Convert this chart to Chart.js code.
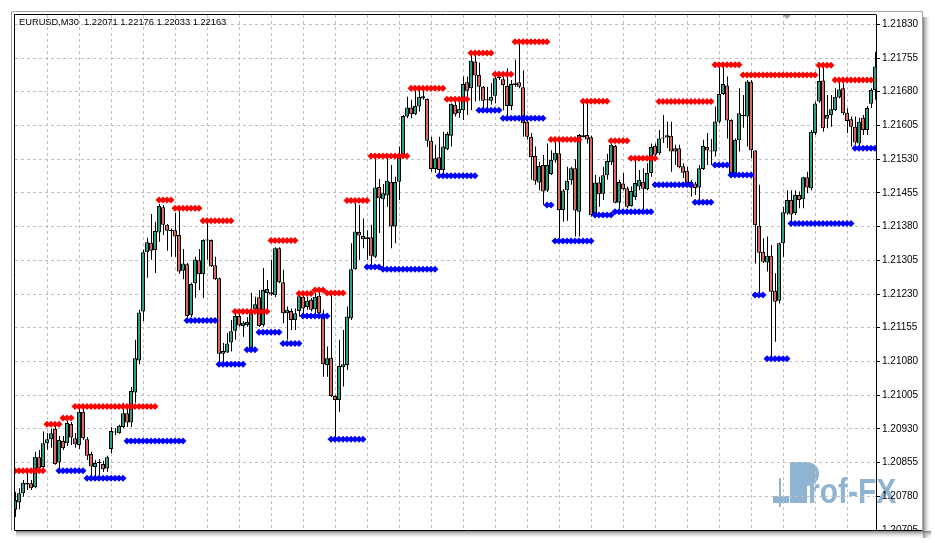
<!DOCTYPE html>
<html>
<head>
<meta charset="utf-8">
<title>EURUSD,M30</title>
<script src="https://cdn.jsdelivr.net/npm/chart.js@4.4.1/dist/chart.umd.min.js"></script>
<style>
  html, body { margin: 0; padding: 0; background: #fff; }
  canvas { display: block; }
</style>
</head>
<body>
<canvas id="chart" width="935" height="543"></canvas>
<script>
// EURUSD M30 candles with support / resistance dots (MT4 style)
var symbolTitle = 'EURUSD,M30  1.22071 1.22176 1.22033 1.22163';

// price ticks of the right axis
var tickLabels = [1.20705, 1.20780, 1.20855, 1.20930, 1.21005, 1.21080, 1.21155, 1.21230,
  1.21305, 1.21380, 1.21455, 1.21530, 1.21605, 1.21680, 1.21755, 1.21830];

// vertical grid every 8 bars (4 hours)
var gridBars = [8, 16, 24, 32, 40, 48, 56, 64, 72, 80, 88, 96, 104, 112, 120, 128,
  136, 144, 152, 160, 168, 176, 184, 192, 200, 208];

var opens = [
  1.20750,1.20766,1.20787,1.20810,1.20809,1.20800,1.20867,1.20845,1.20898,1.20907,
  1.20930,1.20855,1.20903,1.20898,1.20941,1.20909,1.20894,1.20968,1.20907,1.20874,
  1.20845,1.20855,1.20852,1.20842,1.20885,1.20923,1.20920,1.20934,1.20965,1.20944,
  1.21011,1.21082,1.21191,1.21323,1.21344,1.21328,1.21367,1.21423,1.21384,1.21372,
  1.21372,1.21361,1.21282,1.21296,1.21183,1.21254,1.21305,1.21274,1.21351,1.21350,
  1.21294,1.21265,1.21097,1.21100,1.21122,1.21148,1.21181,1.21159,1.21161,1.21102,
  1.21196,1.21223,1.21161,1.21232,1.21234,1.21227,1.21332,1.21256,1.21187,1.21192,
  1.21172,1.21192,1.21224,1.21201,1.21217,1.21196,1.21226,1.21183,1.21072,1.21088,
  1.21003,1.20994,1.21067,1.21072,1.21176,1.21285,1.21368,1.21359,1.21352,1.21356,
  1.21313,1.21468,1.21441,1.21449,1.21480,1.21380,1.21480,1.21539,1.21625,1.21645,
  1.21630,1.21647,1.21665,1.21664,1.21571,1.21508,1.21534,1.21506,1.21552,1.21582,
  1.21651,1.21632,1.21639,1.21701,1.21688,1.21747,1.21717,1.21691,1.21662,1.21660,
  1.21671,1.21710,1.21708,1.21693,1.21648,1.21695,1.21701,1.21690,1.21613,1.21580,
  1.21537,1.21478,1.21517,1.21460,1.21497,1.21527,1.21543,1.21417,1.21461,1.21483,
  1.21510,1.21413,1.21579,1.21584,1.21579,1.21408,1.21478,1.21453,1.21494,1.21523,
  1.21559,1.21433,1.21476,1.21465,1.21426,1.21446,1.21469,1.21480,1.21463,1.21499,
  1.21559,1.21543,1.21576,1.21578,1.21582,1.21547,1.21554,1.21514,1.21504,1.21467,
  1.21476,1.21467,1.21508,1.21557,1.21549,1.21547,1.21613,1.21675,1.21694,1.21617,
  1.21497,1.21572,1.21626,1.21625,1.21702,1.21549,1.21382,1.21324,1.21300,1.21315,
  1.21237,1.21215,1.21343,1.21409,1.21439,1.21410,1.21450,1.21441,1.21490,1.21465,
  1.21588,1.21658,1.21705,1.21620,1.21628,1.21639,1.21667,1.21688,1.21633,1.21619,
  1.21602,1.21565,1.21622,1.21595,1.21653,1.21684
];
var highs = [
  1.20790,1.20798,1.20816,1.20835,1.20816,1.20879,1.20883,1.20924,1.20921,1.20930,
  1.20943,1.20914,1.20914,1.20950,1.20945,1.20921,1.20977,1.20977,1.20912,1.20879,
  1.20861,1.20863,1.20859,1.20870,1.20934,1.20932,1.20939,1.20988,1.20983,1.21023,
  1.21128,1.21195,1.21328,1.21355,1.21408,1.21391,1.21430,1.21428,1.21386,1.21376,
  1.21411,1.21421,1.21330,1.21299,1.21255,1.21313,1.21330,1.21352,1.21395,1.21351,
  1.21313,1.21267,1.21121,1.21143,1.21172,1.21195,1.21188,1.21170,1.21179,1.21233,
  1.21224,1.21239,1.21288,1.21261,1.21306,1.21334,1.21334,1.21284,1.21202,1.21198,
  1.21198,1.21232,1.21228,1.21224,1.21221,1.21232,1.21239,1.21195,1.21113,1.21230,
  1.21005,1.21128,1.21150,1.21202,1.21343,1.21435,1.21428,1.21398,1.21372,1.21384,
  1.21536,1.21486,1.21475,1.21533,1.21517,1.21491,1.21558,1.21628,1.21669,1.21662,
  1.21688,1.21684,1.21688,1.21665,1.21580,1.21562,1.21580,1.21591,1.21591,1.21654,
  1.21669,1.21669,1.21714,1.21714,1.21769,1.21769,1.21745,1.21693,1.21691,1.21699,
  1.21714,1.21725,1.21714,1.21732,1.21706,1.21751,1.21789,1.21728,1.21621,1.21588,
  1.21558,1.21524,1.21539,1.21565,1.21550,1.21573,1.21573,1.21463,1.21513,1.21513,
  1.21530,1.21586,1.21656,1.21655,1.21582,1.21495,1.21491,1.21513,1.21542,1.21565,
  1.21562,1.21484,1.21499,1.21469,1.21469,1.21532,1.21506,1.21510,1.21521,1.21565,
  1.21565,1.21595,1.21628,1.21613,1.21613,1.21562,1.21562,1.21521,1.21513,1.21484,
  1.21480,1.21517,1.21573,1.21588,1.21575,1.21647,1.21736,1.21736,1.21714,1.21619,
  1.21576,1.21688,1.21673,1.21706,1.21706,1.21550,1.21473,1.21354,1.21358,1.21339,
  1.21276,1.21344,1.21424,1.21461,1.21461,1.21461,1.21458,1.21491,1.21502,1.21595,
  1.21658,1.21732,1.21736,1.21673,1.21673,1.21688,1.21702,1.21699,1.21643,1.21625,
  1.21625,1.21622,1.21628,1.21648,1.21688,1.21769
];
var lows = [
  1.20734,1.20751,1.20779,1.20794,1.20794,1.20798,1.20839,1.20843,1.20883,1.20888,
  1.20850,1.20839,1.20883,1.20892,1.20894,1.20888,1.20885,1.20905,1.20861,1.20825,
  1.20821,1.20827,1.20834,1.20834,1.20876,1.20916,1.20919,1.20932,1.20934,1.20934,
  1.20988,1.21074,1.21170,1.21266,1.21306,1.21277,1.21346,1.21361,1.21326,1.21313,
  1.21313,1.21275,1.21263,1.21178,1.21179,1.21221,1.21239,1.21221,1.21306,1.21290,
  1.21261,1.21077,1.21077,1.21099,1.21102,1.21128,1.21157,1.21135,1.21157,1.21101,
  1.21187,1.21157,1.21157,1.21195,1.21226,1.21223,1.21254,1.21165,1.21128,1.21150,
  1.21150,1.21180,1.21183,1.21195,1.21191,1.21183,1.21181,1.21046,1.21046,1.21001,
  1.20909,1.20968,1.21024,1.21061,1.21172,1.21284,1.21306,1.21332,1.21306,1.21295,
  1.21310,1.21366,1.21284,1.21424,1.21332,1.21343,1.21439,1.21536,1.21621,1.21621,
  1.21628,1.21636,1.21662,1.21557,1.21502,1.21499,1.21495,1.21495,1.21550,1.21558,
  1.21625,1.21622,1.21617,1.21628,1.21639,1.21658,1.21660,1.21639,1.21639,1.21651,
  1.21654,1.21706,1.21639,1.21625,1.21639,1.21691,1.21688,1.21580,1.21573,1.21484,
  1.21473,1.21461,1.21428,1.21457,1.21495,1.21522,1.21346,1.21391,1.21393,1.21473,
  1.21358,1.21358,1.21578,1.21565,1.21402,1.21406,1.21424,1.21439,1.21484,1.21517,
  1.21432,1.21413,1.21461,1.21421,1.21424,1.21439,1.21461,1.21417,1.21461,1.21491,
  1.21528,1.21539,1.21566,1.21555,1.21502,1.21517,1.21510,1.21488,1.21474,1.21447,
  1.21450,1.21435,1.21506,1.21517,1.21517,1.21536,1.21610,1.21673,1.21576,1.21493,
  1.21495,1.21547,1.21600,1.21558,1.21532,1.21298,1.21228,1.21299,1.21280,1.21083,
  1.21124,1.21209,1.21313,1.21406,1.21384,1.21406,1.21421,1.21421,1.21454,1.21461,
  1.21584,1.21655,1.21591,1.21599,1.21602,1.21637,1.21665,1.21628,1.21588,1.21558,
  1.21562,1.21554,1.21584,1.21584,1.21644,1.21662
];
var closes = [
  1.20772,1.20787,1.20810,1.20806,1.20798,1.20868,1.20842,1.20898,1.20907,1.20920,
  1.20852,1.20905,1.20887,1.20943,1.20911,1.20896,1.20968,1.20909,1.20870,1.20846,
  1.20854,1.20854,1.20840,1.20867,1.20925,1.20922,1.20937,1.20965,1.20944,1.21014,
  1.21087,1.21189,1.21323,1.21345,1.21326,1.21370,1.21426,1.21384,1.21371,1.21370,
  1.21358,1.21280,1.21298,1.21181,1.21252,1.21307,1.21274,1.21350,1.21349,1.21292,
  1.21263,1.21097,1.21103,1.21120,1.21147,1.21181,1.21160,1.21166,1.21168,1.21187,
  1.21207,1.21159,1.21239,1.21241,1.21229,1.21332,1.21256,1.21187,1.21195,1.21172,
  1.21187,1.21225,1.21198,1.21215,1.21195,1.21224,1.21187,1.21074,1.21087,1.21003,
  1.20994,1.21070,1.21074,1.21180,1.21285,1.21369,1.21360,1.21352,1.21356,1.21315,
  1.21467,1.21443,1.21454,1.21482,1.21380,1.21479,1.21539,1.21626,1.21645,1.21630,
  1.21648,1.21669,1.21670,1.21571,1.21508,1.21532,1.21506,1.21558,1.21586,1.21653,
  1.21630,1.21642,1.21697,1.21682,1.21749,1.21716,1.21691,1.21660,1.21661,1.21669,
  1.21710,1.21714,1.21695,1.21648,1.21697,1.21699,1.21691,1.21610,1.21580,1.21534,
  1.21482,1.21515,1.21458,1.21517,1.21528,1.21544,1.21417,1.21460,1.21482,1.21510,
  1.21416,1.21584,1.21583,1.21574,1.21405,1.21478,1.21452,1.21494,1.21526,1.21562,
  1.21433,1.21479,1.21463,1.21424,1.21459,1.21477,1.21484,1.21464,1.21499,1.21557,
  1.21540,1.21576,1.21578,1.21583,1.21547,1.21554,1.21512,1.21500,1.21476,1.21479,
  1.21466,1.21510,1.21559,1.21549,1.21547,1.21614,1.21675,1.21697,1.21616,1.21497,
  1.21573,1.21632,1.21627,1.21703,1.21550,1.21383,1.21322,1.21302,1.21315,1.21235,
  1.21213,1.21343,1.21412,1.21439,1.21407,1.21451,1.21439,1.21490,1.21467,1.21591,
  1.21654,1.21704,1.21599,1.21628,1.21641,1.21669,1.21685,1.21632,1.21615,1.21602,
  1.21567,1.21613,1.21595,1.21644,1.21684,1.21736
];

// indicator levels, one value per bar (null = no dot)
var resistance = [
  1.20837,1.20837,1.20837,1.20837,1.20837,1.20837,1.20837,1.20837,1.20940,1.20940,
  1.20940,1.20940,1.20954,1.20954,1.20954,1.20980,1.20980,1.20980,1.20980,1.20980,
  1.20980,1.20980,1.20980,1.20980,1.20980,1.20980,1.20980,1.20980,1.20980,1.20980,
  1.20980,1.20980,1.20980,1.20980,1.20980,1.20980,1.21439,1.21439,1.21439,1.21439,
  1.21421,1.21421,1.21421,1.21421,1.21421,1.21421,1.21421,1.21393,1.21393,1.21393,
  1.21393,1.21393,1.21393,1.21393,1.21393,1.21191,1.21191,1.21191,1.21191,1.21191,
  1.21191,1.21191,1.21191,1.21191,1.21349,1.21349,1.21349,1.21349,1.21349,1.21349,
  1.21349,1.21231,1.21231,1.21231,1.21231,1.21239,1.21239,1.21239,1.21232,1.21232,
  1.21232,1.21232,1.21232,1.21438,1.21438,1.21438,1.21438,1.21438,1.21438,1.21537,
  1.21537,1.21537,1.21537,1.21537,1.21537,1.21537,1.21537,1.21537,1.21537,1.21688,
  1.21688,1.21688,1.21688,1.21688,1.21688,1.21688,1.21688,1.21688,1.21663,1.21663,
  1.21663,1.21663,1.21663,1.21663,1.21766,1.21766,1.21766,1.21766,1.21766,1.21766,
  1.21719,1.21719,1.21719,1.21719,1.21719,1.21791,1.21791,1.21791,1.21791,1.21791,
  1.21791,1.21791,1.21791,1.21791,1.21574,1.21574,1.21574,1.21574,1.21574,1.21574,
  1.21574,1.21574,1.21659,1.21659,1.21659,1.21659,1.21659,1.21659,1.21659,1.21571,
  1.21571,1.21571,1.21571,1.21571,1.21532,1.21532,1.21532,1.21532,1.21532,1.21532,
  1.21532,1.21658,1.21658,1.21658,1.21658,1.21658,1.21658,1.21658,1.21658,1.21658,
  1.21658,1.21658,1.21658,1.21658,1.21658,1.21740,1.21740,1.21740,1.21740,1.21740,
  1.21740,1.21740,1.21717,1.21717,1.21717,1.21717,1.21717,1.21717,1.21717,1.21717,
  1.21717,1.21717,1.21717,1.21717,1.21717,1.21717,1.21717,1.21717,1.21717,1.21717,
  1.21717,1.21739,1.21739,1.21739,1.21739,1.21706,1.21706,1.21706,1.21706,1.21706,
  1.21706,1.21706,1.21706,1.21706,1.21706,null
];
var support = [
  null,null,null,null,null,null,null,null,null,null,
  null,1.20837,1.20837,1.20837,1.20837,1.20837,1.20837,1.20837,1.20820,1.20820,
  1.20820,1.20820,1.20820,1.20820,1.20820,1.20820,1.20820,1.20820,1.20903,1.20903,
  1.20903,1.20903,1.20903,1.20903,1.20903,1.20903,1.20903,1.20903,1.20903,1.20903,
  1.20903,1.20903,1.20903,1.21171,1.21171,1.21171,1.21171,1.21171,1.21171,1.21171,
  1.21171,1.21074,1.21074,1.21074,1.21074,1.21074,1.21074,1.21074,1.21106,1.21106,
  1.21106,1.21145,1.21145,1.21145,1.21145,1.21145,1.21145,1.21120,1.21120,1.21120,
  1.21120,1.21120,1.21181,1.21181,1.21181,1.21181,1.21181,1.21181,1.21181,1.20907,
  1.20907,1.20907,1.20907,1.20907,1.20907,1.20907,1.20907,1.20907,1.21290,1.21290,
  1.21290,1.21290,1.21285,1.21285,1.21285,1.21285,1.21285,1.21285,1.21285,1.21285,
  1.21285,1.21285,1.21285,1.21285,1.21285,1.21285,1.21493,1.21493,1.21493,1.21493,
  1.21493,1.21493,1.21493,1.21493,1.21493,1.21493,1.21639,1.21639,1.21639,1.21639,
  1.21639,1.21639,1.21621,1.21621,1.21621,1.21621,1.21621,1.21621,1.21621,1.21621,
  1.21621,1.21621,1.21621,1.21428,1.21428,1.21348,1.21348,1.21348,1.21348,1.21348,
  1.21348,1.21348,1.21348,1.21348,1.21348,1.21406,1.21406,1.21406,1.21406,1.21406,
  1.21413,1.21413,1.21413,1.21413,1.21413,1.21413,1.21413,1.21413,1.21413,1.21413,
  1.21473,1.21473,1.21473,1.21473,1.21473,1.21473,1.21473,1.21473,1.21473,1.21473,
  1.21434,1.21434,1.21434,1.21434,1.21434,1.21517,1.21517,1.21517,1.21517,1.21495,
  1.21495,1.21495,1.21495,1.21495,1.21495,1.21228,1.21228,1.21228,1.21086,1.21086,
  1.21086,1.21086,1.21086,1.21086,1.21387,1.21387,1.21387,1.21387,1.21387,1.21387,
  1.21387,1.21387,1.21387,1.21387,1.21387,1.21387,1.21387,1.21387,1.21387,1.21387,
  1.21554,1.21554,1.21554,1.21554,1.21554,1.21554
];

var BULL = '#2f9c86';
var BEAR = '#d9685c';

(function () {
  function points(values) {
    return values.map(function (v, i) { return { x: i, y: v }; });
  }

  var bodies = opens.map(function (o, i) { return { x: i, y: [o, closes[i]] }; });
  var wicks = lows.map(function (l, i) { return { x: i, y: [l, highs[i]] }; });
  var bodyColors = opens.map(function (o, i) { return closes[i] >= o ? BULL : BEAR; });

  // white page, watermark under the grid
  var backdrop = {
    id: 'backdrop',
    beforeDraw: function (chart) {
      var ctx = chart.ctx;
      ctx.save();
      ctx.fillStyle = '#fff';
      ctx.fillRect(0, 0, chart.width, chart.height);
      ctx.fillStyle = '#8fb3d3';
      ctx.fillRect(790, 462, 17, 41);
      ctx.fillRect(773, 496, 16, 7);
      ctx.fillRect(779, 478, 2, 29);
      ctx.beginPath();
      ctx.arc(807, 474, 12, -Math.PI / 2, Math.PI / 2);
      ctx.fill();
      ctx.translate(808, 503);
      ctx.scale(1, 1.15);
      ctx.font = 'bold 30px "Liberation Sans"';
      ctx.textBaseline = 'alphabetic';
      ctx.fillText('rof-FX', 0, 0);
      ctx.restore();
    }
  };

  // terminal window frame, header line, shift marker
  var frame = {
    id: 'frame',
    afterDraw: function (chart) {
      var ctx = chart.ctx, a = chart.chartArea;
      ctx.save();
      ctx.fillStyle = '#fff';
      ctx.fillRect(0, a.bottom + 1, chart.width, chart.height - a.bottom - 1);
      ctx.fillRect(923, 0, chart.width - 923, chart.height);

      ctx.strokeStyle = '#000';
      ctx.lineWidth = 1;
      ctx.beginPath();
      ctx.moveTo(a.left - 0.5, a.bottom + 0.5);
      ctx.lineTo(a.left - 0.5, a.top - 0.5);
      ctx.lineTo(a.right + 0.5, a.top - 0.5);
      ctx.moveTo(a.left - 0.5, a.bottom + 0.5);
      ctx.lineTo(922.5, a.bottom + 0.5);
      ctx.stroke();

      ctx.strokeStyle = '#a0a0a0';
      ctx.beginPath();
      ctx.moveTo(11.5, a.bottom + 0.5);
      ctx.lineTo(11.5, 11.5);
      ctx.lineTo(922.5, 11.5);
      ctx.lineTo(922.5, a.bottom + 0.5);
      ctx.stroke();

      var g = ctx.createLinearGradient(923, 0, 931, 0);
      g.addColorStop(0, 'rgba(90,90,90,0.75)');
      g.addColorStop(1, 'rgba(255,255,255,0)');
      ctx.fillStyle = g;
      ctx.fillRect(923, 17, 8, a.bottom - 9);
      g = ctx.createLinearGradient(0, a.bottom + 1, 0, a.bottom + 9);
      g.addColorStop(0, 'rgba(90,90,90,0.75)');
      g.addColorStop(1, 'rgba(255,255,255,0)');
      ctx.fillStyle = g;
      ctx.fillRect(16, a.bottom + 1, 915, 8);

      ctx.fillStyle = '#a0a0a0';
      ctx.beginPath();
      ctx.moveTo(783, a.top);
      ctx.lineTo(791, a.top);
      ctx.lineTo(787, a.top + 4);
      ctx.closePath();
      ctx.fill();

      ctx.fillStyle = '#000';
      ctx.font = '9.3px "Liberation Sans"';
      ctx.textBaseline = 'alphabetic';
      ctx.fillText(symbolTitle, 19, 25);
      ctx.restore();
    }
  };

  new Chart(document.getElementById('chart'), {
    type: 'bar',
    data: {
      datasets: [
        {
          type: 'line', label: 'Resistance', data: points(resistance), showLine: false,
          pointStyle: 'rectRot', pointRadius: 3.5, pointHoverRadius: 3.5, pointBorderWidth: 0,
          pointBackgroundColor: '#ff0000', pointBorderColor: '#ff0000', order: 0
        },
        {
          type: 'line', label: 'Support', data: points(support), showLine: false,
          pointStyle: 'rectRot', pointRadius: 3.5, pointHoverRadius: 3.5, pointBorderWidth: 0,
          pointBackgroundColor: '#0000ff', pointBorderColor: '#0000ff', order: 0
        },
        {
          label: 'Body', data: bodies, backgroundColor: bodyColors, borderColor: '#000',
          borderWidth: 1, borderSkipped: false, barThickness: 4, minBarLength: 1,
          inflateAmount: 0, grouped: false, order: 1
        },
        {
          label: 'Wick', data: wicks, xAxisID: 'xw', backgroundColor: '#000', borderWidth: 0,
          barThickness: 1, inflateAmount: 0, grouped: false, order: 2
        }
      ]
    },
    options: {
      responsive: false,
      animation: false,
      layout: { padding: { left: 15, top: 15, right: 12, bottom: 13 } },
      plugins: { legend: { display: false }, tooltip: { enabled: false }, title: { display: false } },
      scales: {
        x: {
          type: 'linear', min: 0, max: 215.25, offset: false,
          afterBuildTicks: function (scale) {
            scale.ticks = gridBars.map(function (v) { return { value: v }; });
          },
          afterFit: function (scale) { scale.height = 0; },
          grid: { color: '#c0c0c0', drawTicks: false, offset: false },
          border: { display: false, dash: [3, 3] },
          ticks: { display: false }
        },
        // same bars, half a pixel to the right so the 1px wick lands on a whole pixel
        xw: {
          type: 'linear', display: false, min: -0.125, max: 215.125, offset: false,
          grid: { display: false, offset: false }
        },
        y: {
          position: 'right', min: 1.20705, max: 1.218507,
          afterBuildTicks: function (scale) {
            scale.ticks = tickLabels.map(function (v) { return { value: v }; });
          },
          afterFit: function (scale) { scale.width = 47; },
          grid: { color: '#c0c0c0', drawTicks: true, tickLength: 4, tickColor: '#000' },
          border: { display: true, color: '#000', width: 1, dash: [3, 3] },
          ticks: {
            autoSkip: false, color: '#000', padding: 2,
            font: { family: 'Liberation Sans', size: 10 },
            callback: function (v) { return Number(v).toFixed(5); }
          }
        }
      }
    },
    plugins: [backdrop, frame]
  });
})();
</script>
</body>
</html>
